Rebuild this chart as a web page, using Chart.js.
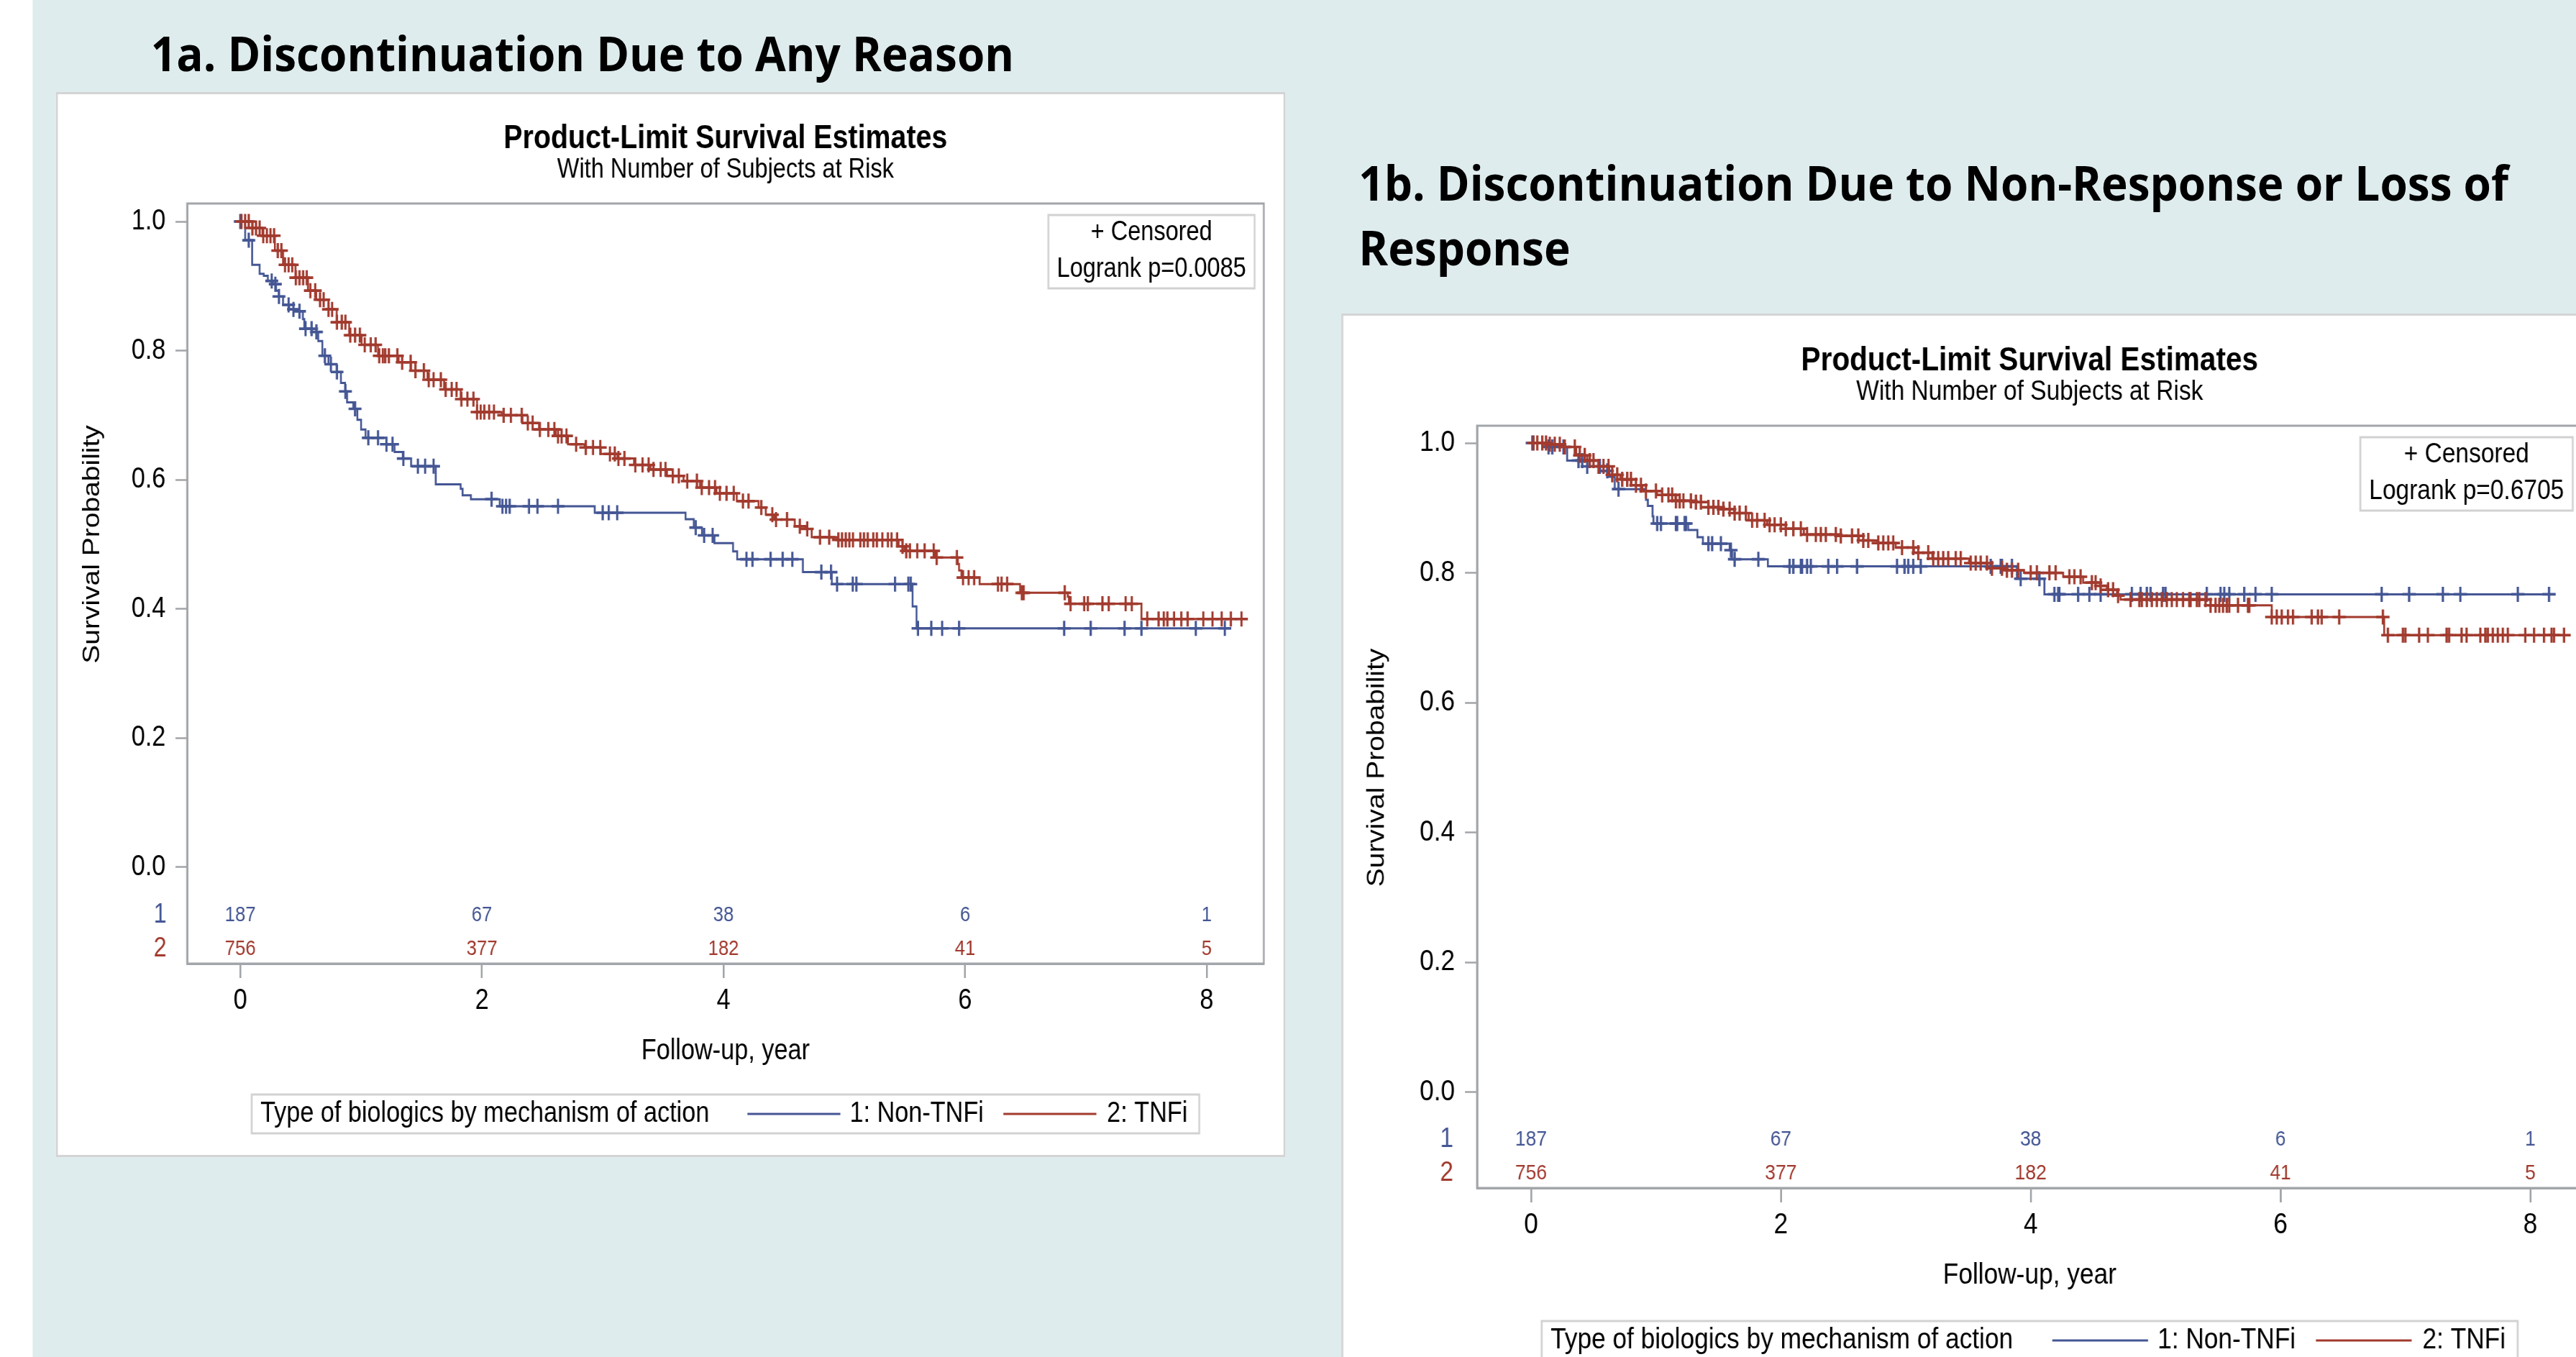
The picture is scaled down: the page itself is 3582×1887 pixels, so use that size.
<!DOCTYPE html>
<html lang="en">
<head>
<meta charset="UTF-8">
<title>Product-Limit Survival Estimates</title>
<script src="https://cdn.jsdelivr.net/npm/chart.js"></script>
<style>
  html, body { margin: 0; padding: 0; background: #fff; overflow: hidden; width: 3582px; height: 1887px; }
  /* the source picture is squeezed sideways, so the whole page is too */
  #page { position: absolute; left: 0; top: 0; width: 4185px; height: 1887px; transform: scaleX(0.856); transform-origin: 0 0; }
  #bg { position: absolute; left: 52.6px; top: 0; right: 0; bottom: 0; background: #dfeced; }
  .heading { position: absolute; font-family: "Open Sans", sans-serif; font-weight: 700; font-size: 66px; line-height: 90px; color: #000; white-space: nowrap; transform-origin: 0 0; }
  .panel { position: absolute; background: #fff; border: 3px solid #d4d4d4; transform-origin: 0 0; }
  .panel canvas { display: block; }
</style>
</head>
<body>
<div id="page">
  <div id="bg"></div>
  <div class="heading" id="h1a" style="left:245.3px; top:28.4px;">1a. Discontinuation Due to Any Reason</div>
  <div class="heading" id="h1b" style="left:2206.8px; top:208.4px;">1b. Discontinuation Due to Non-Response or Loss of<br>Response</div>

  <div class="panel" style="left:91.1px; top:128px;">
    <canvas id="chartAny" width="1991" height="1475"></canvas>
  </div>
  <div class="panel" style="left:2178.7px; top:436px; transform:scaleX(1.03);">
    <canvas id="chartNonResp" width="1986" height="1480"></canvas>
  </div>
</div>

<script>
// ---- data ----
const yearTicks = [0, 2, 4, 6, 8];
const survTicks = [0, 0.2, 0.4, 0.6, 0.8, 1.0];
const groupIds = ['1', '2'];
const groupLabels = ['1: Non-TNFi', '2: TNFi'];
const atRiskNonTnf = [187, 67, 38, 6, 1];
const atRiskTnf = [756, 377, 182, 41, 5];

// 1a. any reason: step times (years) and survival after each step
const anyNonTime = [0, 0.04, 0.098, 0.16, 0.194, 0.228, 0.269, 0.296, 0.32, 0.354, 0.405, 0.457, 0.518, 0.53, 0.593, 0.645, 0.679, 0.73, 0.798, 0.833, 0.867, 0.884, 0.935, 0.969, 1.0, 1.037, 1.208, 1.277, 1.345, 1.414, 1.618, 1.824, 1.84, 1.909, 2.148, 2.934, 3.686, 3.754, 3.822, 3.925, 4.079, 4.113, 4.657, 4.897, 5.565, 5.598, 8.2];
const anyNonSurv = [1, 0.971, 0.933, 0.919, 0.916, 0.908, 0.903, 0.893, 0.884, 0.871, 0.864, 0.861, 0.849, 0.834, 0.829, 0.815, 0.792, 0.779, 0.767, 0.75, 0.737, 0.72, 0.71, 0.693, 0.678, 0.665, 0.655, 0.643, 0.633, 0.621, 0.593, 0.586, 0.576, 0.57, 0.559, 0.549, 0.539, 0.526, 0.514, 0.502, 0.489, 0.477, 0.457, 0.4385, 0.404, 0.37, 0.37];
const anyNonCens = [0.0, 0.07, 0.26, 0.29, 0.32, 0.40, 0.44, 0.49, 0.54, 0.59, 0.63, 0.70, 0.75, 0.80, 0.87, 0.95, 1.06, 1.14, 1.21, 1.26, 1.35, 1.47, 1.53, 1.60, 2.08, 2.17, 2.20, 2.23, 2.39, 2.46, 2.63, 3.00, 3.05, 3.12, 3.77, 3.84, 3.91, 4.19, 4.24, 4.39, 4.49, 4.57, 4.81, 4.89, 4.94, 5.07, 5.10, 5.42, 5.53, 5.55, 5.61, 5.72, 5.81, 5.95, 6.82, 7.04, 7.32, 7.46, 7.91, 8.15];

const anyTnfTime = [0, 0.1, 0.183, 0.286, 0.354, 0.457, 0.56, 0.628, 0.73, 0.798, 0.901, 1.004, 1.14, 1.311, 1.414, 1.55, 1.687, 1.824, 1.96, 2.165, 2.336, 2.473, 2.61, 2.712, 2.849, 2.985, 3.122, 3.259, 3.396, 3.532, 3.669, 3.805, 3.942, 4.11, 4.29, 4.35, 4.42, 4.59, 4.68, 4.73, 4.94, 5.45, 5.50, 5.75, 5.94, 5.95, 5.97, 6.12, 6.455, 6.85, 6.86, 7.46, 8.34];
const anyTnfSurv = [1, 0.99, 0.978, 0.955, 0.933, 0.913, 0.893, 0.879, 0.864, 0.844, 0.824, 0.809, 0.792, 0.782, 0.769, 0.755, 0.74, 0.725, 0.705, 0.70, 0.688, 0.678, 0.668, 0.655, 0.65, 0.64, 0.633, 0.623, 0.616, 0.606, 0.598, 0.588, 0.579, 0.567, 0.557, 0.546, 0.5385, 0.528, 0.524, 0.511, 0.507, 0.497, 0.49, 0.4796, 0.4697, 0.4597, 0.4486, 0.4386, 0.425, 0.419, 0.408, 0.3845, 0.3845];
const anyTnfCens = [0.01, 0.04, 0.07, 0.10, 0.13, 0.16, 0.19, 0.22, 0.25, 0.28, 0.31, 0.34, 0.37, 0.40, 0.43, 0.46, 0.49, 0.52, 0.55, 0.58, 0.62, 0.66, 0.69, 0.73, 0.76, 0.80, 0.84, 0.87, 0.91, 0.95, 0.99, 1.03, 1.08, 1.12, 1.15, 1.18, 1.20, 1.23, 1.30, 1.34, 1.41, 1.45, 1.52, 1.56, 1.60, 1.66, 1.70, 1.75, 1.79, 1.83, 1.88, 1.93, 1.96, 1.99, 2.02, 2.06, 2.10, 2.18, 2.24, 2.33, 2.38, 2.42, 2.48, 2.55, 2.60, 2.63, 2.66, 2.70, 2.78, 2.86, 2.92, 2.98, 3.06, 3.10, 3.13, 3.18, 3.27, 3.33, 3.38, 3.42, 3.48, 3.52, 3.58, 3.63, 3.70, 3.78, 3.82, 3.88, 3.93, 3.97, 4.025, 4.085, 4.161, 4.207, 4.313, 4.404, 4.435, 4.526, 4.632, 4.693, 4.799, 4.875, 4.951, 4.981, 5.012, 5.042, 5.072, 5.133, 5.163, 5.194, 5.24, 5.27, 5.315, 5.361, 5.391, 5.437, 5.482, 5.513, 5.543, 5.604, 5.665, 5.74, 5.765, 5.932, 5.983, 6.029, 6.075, 6.272, 6.302, 6.348, 6.47, 6.485, 6.825, 6.873, 6.986, 7.016, 7.137, 7.189, 7.329, 7.38, 7.508, 7.602, 7.645, 7.675, 7.73, 7.79, 7.842, 7.972, 8.048, 8.124, 8.2, 8.288];

// 1b. non-response or loss of response
const nrNonTime = [0, 0.127, 0.289, 0.45, 0.553, 0.626, 0.67, 0.92, 0.935, 0.973, 0.98, 1.258, 1.332, 1.376, 1.59, 1.61, 1.896, 3.89, 4.11, 8.2];
const nrNonSurv = [1, 0.994, 0.973, 0.964, 0.957, 0.948, 0.929, 0.9125, 0.903, 0.887, 0.876, 0.866, 0.855, 0.845, 0.835, 0.821, 0.81, 0.791, 0.767, 0.767];
const nrNonCens = [0.01, 0.14, 0.17, 0.26, 0.38, 0.41, 0.45, 0.55, 0.61, 0.70, 1.01, 1.04, 1.16, 1.17, 1.23, 1.24, 1.42, 1.45, 1.52, 1.60, 1.63, 1.82, 2.07, 2.10, 2.16, 2.17, 2.21, 2.24, 2.38, 2.45, 2.61, 2.93, 2.99, 3.02, 3.06, 3.12, 3.68, 3.76, 3.77, 3.85, 3.92, 4.07, 4.19, 4.22, 4.23, 4.38, 4.47, 4.56, 4.81, 4.88, 4.93, 4.96, 5.06, 5.08, 5.41, 5.52, 5.55, 5.59, 5.71, 5.80, 5.93, 6.81, 7.03, 7.30, 7.44, 7.90, 8.15];

const nrTnfTime = [0, 0.127, 0.245, 0.362, 0.45, 0.538, 0.626, 0.715, 0.803, 0.891, 1.008, 1.156, 1.302, 1.42, 1.538, 1.626, 1.743, 1.89, 2.037, 2.184, 2.478, 2.625, 2.772, 2.919, 3.066, 3.213, 3.507, 3.654, 3.8, 3.947, 4.26, 4.42, 4.556, 4.61, 4.69, 4.72, 5.44, 5.93, 6.83, 8.32];
const nrTnfSurv = [1, 0.998, 0.994, 0.981, 0.973, 0.964, 0.951, 0.944, 0.935, 0.926, 0.92, 0.911, 0.909, 0.901, 0.898, 0.892, 0.881, 0.874, 0.868, 0.859, 0.857, 0.85, 0.846, 0.839, 0.831, 0.822, 0.815, 0.807, 0.804, 0.8, 0.794, 0.785, 0.78, 0.774, 0.765, 0.759, 0.75, 0.732, 0.704, 0.704];
const nrTnfCens = [0.02, 0.05, 0.09, 0.12, 0.15, 0.19, 0.23, 0.27, 0.35, 0.39, 0.43, 0.47, 0.5, 0.54, 0.58, 0.62, 0.65, 0.69, 0.73, 0.77, 0.8, 0.84, 0.88, 0.92, 1.0, 1.05, 1.1, 1.13, 1.16, 1.19, 1.22, 1.28, 1.32, 1.36, 1.42, 1.46, 1.5, 1.54, 1.59, 1.63, 1.67, 1.72, 1.77, 1.81, 1.87, 1.91, 1.95, 2.0, 2.04, 2.1, 2.16, 2.21, 2.28, 2.32, 2.36, 2.44, 2.48, 2.57, 2.62, 2.66, 2.7, 2.78, 2.82, 2.86, 2.9, 2.97, 3.06, 3.1, 3.18, 3.22, 3.26, 3.3, 3.34, 3.4, 3.44, 3.52, 3.56, 3.6, 3.65, 3.69, 3.77, 3.81, 3.85, 3.9, 4.0, 4.05, 4.15, 4.2, 4.31, 4.35, 4.4, 4.49, 4.52, 4.56, 4.62, 4.66, 4.7, 4.8, 4.87, 4.89, 4.93, 4.97, 5.01, 5.05, 5.09, 5.13, 5.17, 5.22, 5.27, 5.28, 5.33, 5.35, 5.4, 5.44, 5.48, 5.51, 5.54, 5.57, 5.59, 5.66, 5.74, 5.75, 5.93, 5.97, 6.01, 6.06, 6.1, 6.25, 6.3, 6.33, 6.47, 6.82, 6.86, 6.98, 7.0, 7.11, 7.18, 7.33, 7.35, 7.45, 7.49, 7.6, 7.64, 7.66, 7.7, 7.74, 7.78, 7.82, 7.96, 8.03, 8.11, 8.17, 8.19, 8.27];

// ---- styling ----
const FAM = '"Liberation Sans", Arial, Helvetica, sans-serif';
const BLUE = '#445694';
const RED = '#a23a2e';
const FRAME = '#a2a5a9';
const BOXLINE = '#d2d2d2';

// survival level of a step curve at time t
function survAt(times, surv, t) {
  let s = surv[0];
  for (let i = 0; i < times.length; i++) {
    if (times[i] <= t) s = surv[i]; else break;
  }
  return s;
}

function stepSet(label, times, surv, color, order) {
  return {
    type: 'line', label: label, order: order,
    data: times.map((t, i) => ({ x: t, y: surv[i] })),
    stepped: 'before', showLine: true, fill: false,
    borderColor: color, borderWidth: 3, pointRadius: 0
  };
}

function censorSet(label, cens, times, surv, color, order) {
  return {
    type: 'scatter', label: label + ' censored', order: order,
    data: cens.map(t => ({ x: t, y: survAt(times, surv, t) })),
    showLine: false, pointStyle: 'cross', pointRadius: 10.5,
    pointBorderWidth: 3.6, pointBorderColor: color, pointBackgroundColor: color
  };
}

const kmDecor = {
  id: 'kmDecor',
  afterDraw(chart, args, o) {
    const { ctx, chartArea: a } = chart;
    const xs = chart.scales.x, ys = chart.scales.y;
    const cx = (a.left + a.right) / 2;
    ctx.save();

    // frame round the plot
    ctx.strokeStyle = FRAME;
    ctx.lineWidth = 3;
    ctx.strokeRect(a.left, a.top, a.right - a.left, a.bottom - a.top);

    // titles
    ctx.fillStyle = '#000';
    ctx.textAlign = 'center';
    ctx.textBaseline = 'alphabetic';
    ctx.font = 'bold 46px ' + FAM;
    ctx.fillText('Product-Limit Survival Estimates', cx, a.top - 77);
    ctx.font = '38px ' + FAM;
    ctx.fillText('With Number of Subjects at Risk', cx, a.top - 36);

    // censored / logrank box
    const bw = 335, bh = 102;
    const bx = a.right - 15 - bw, by = a.top + 16;
    ctx.fillStyle = '#fff';
    ctx.fillRect(bx, by, bw, bh);
    ctx.strokeStyle = BOXLINE;
    ctx.strokeRect(bx, by, bw, bh);
    ctx.fillStyle = '#000';
    ctx.textBaseline = 'middle';
    ctx.font = '38px ' + FAM;
    ctx.fillText('+ Censored', bx + bw / 2, by + 25);
    ctx.fillText('Logrank p=' + o.pValue, bx + bw / 2, by + 76);

    // numbers at risk
    const rows = [atRiskNonTnf, atRiskTnf];
    const rowY = [a.bottom - 67, a.bottom - 20];
    const colors = [BLUE, RED];
    rows.forEach((row, r) => {
      ctx.fillStyle = colors[r];
      ctx.font = '30px ' + FAM;
      row.forEach((n, i) => ctx.fillText(String(n), xs.getPixelForValue(yearTicks[i]), rowY[r]));
      ctx.font = '38px ' + FAM;
      ctx.fillText(groupIds[r], a.left - o.rowLabelX, rowY[r]);
    });

    // axis titles
    ctx.fillStyle = '#000';
    ctx.save();
    ctx.translate(a.left - o.yTitleX, (ys.getPixelForValue(0) + ys.getPixelForValue(1)) / 2);
    ctx.rotate(-Math.PI / 2);
    ctx.font = '39px ' + FAM;
    ctx.fillText('Survival Probability', 0, 0);
    ctx.restore();
    ctx.font = '40px ' + FAM;
    ctx.fillText('Follow-up, year', cx, a.bottom + 122);

    // legend
    const legTitle = 'Type of biologics by mechanism of action';
    ctx.font = '40px ' + FAM;
    const wT = ctx.measureText(legTitle).width;
    const w1 = ctx.measureText(groupLabels[0]).width;
    const w2 = ctx.measureText(groupLabels[1]).width;
    const lineLen = 151;
    const total = 14 + wT + 62 + lineLen + 15 + w1 + 32 + lineLen + 17 + w2 + 19;
    const lx = cx - total / 2, ly = a.bottom + o.legendTop, lh = 54;
    ctx.fillStyle = '#fff';
    ctx.fillRect(lx, ly, total, lh);
    ctx.strokeStyle = BOXLINE;
    ctx.lineWidth = 3;
    ctx.strokeRect(lx, ly, total, lh);
    const my = ly + lh / 2;
    ctx.textAlign = 'left';
    ctx.fillStyle = '#000';
    let px = lx + 14;
    ctx.fillText(legTitle, px, my);
    px += wT + 62;
    ctx.strokeStyle = BLUE;
    ctx.beginPath(); ctx.moveTo(px, my); ctx.lineTo(px + lineLen, my); ctx.stroke();
    px += lineLen + 15;
    ctx.fillText(groupLabels[0], px, my);
    px += w1 + 32;
    ctx.strokeStyle = RED;
    ctx.beginPath(); ctx.moveTo(px, my); ctx.lineTo(px + lineLen, my); ctx.stroke();
    px += lineLen + 17;
    ctx.fillText(groupLabels[1], px, my);

    ctx.restore();
  }
};

function kmChart(id, d, L) {
  const tickFont = { family: FAM, size: 40 };
  return new Chart(document.getElementById(id), {
    type: 'scatter',
    data: {
      datasets: [
        stepSet(groupLabels[0], d.nonTime, d.nonSurv, BLUE, 3),
        censorSet(groupLabels[0], d.nonCens, d.nonTime, d.nonSurv, BLUE, 2),
        stepSet(groupLabels[1], d.tnfTime, d.tnfSurv, RED, 1),
        censorSet(groupLabels[1], d.tnfCens, d.tnfTime, d.tnfSurv, RED, 0)
      ]
    },
    plugins: [kmDecor],
    options: {
      responsive: false,
      animation: false,
      devicePixelRatio: 1,
      events: [],
      layout: { padding: { top: L.top, right: L.right, left: 0, bottom: 0 } },
      plugins: {
        legend: { display: false },
        tooltip: { enabled: false },
        kmDecor: { pValue: d.pValue, rowLabelX: L.rowLabelX, yTitleX: L.yTitleX, legendTop: L.legendTop }
      },
      scales: {
        x: {
          type: 'linear', min: L.xMin, max: L.xMax,
          afterFit: s => { s.height = L.xAxisHeight; },
          afterBuildTicks: s => { s.ticks = yearTicks.map(v => ({ value: v })); },
          ticks: { font: tickFont, color: '#000', padding: 8, autoSkip: false, maxRotation: 0, callback: v => String(v) },
          grid: { drawOnChartArea: false, drawTicks: true, tickLength: 20, tickWidth: 3, tickColor: FRAME },
          border: { display: true, color: FRAME, width: 3 }
        },
        y: {
          type: 'linear', min: L.yMin, max: L.yMax,
          afterFit: s => { s.width = L.yAxisWidth; },
          afterBuildTicks: s => { s.ticks = survTicks.map(v => ({ value: v })); },
          ticks: { font: tickFont, color: '#000', padding: 16, callback: v => v.toFixed(1) },
          grid: { drawOnChartArea: false, drawTicks: true, tickLength: 19, tickWidth: 2.5, tickColor: FRAME },
          border: { display: true, color: FRAME, width: 3 }
        }
      }
    }
  });
}

kmChart('chartAny',
  { nonTime: anyNonTime, nonSurv: anyNonSurv, nonCens: anyNonCens,
    tnfTime: anyTnfTime, tnfSurv: anyTnfSurv, tnfCens: anyTnfCens, pValue: '0.0085' },
  { top: 152, right: 32, yAxisWidth: 210, xAxisHeight: 266, xMin: -0.44, xMax: 8.473, yMin: -0.1493, yMax: 1.0279,
    rowLabelX: 44, yTitleX: 154, legendTop: 182 });

kmChart('chartNonResp',
  { nonTime: nrNonTime, nonSurv: nrNonSurv, nonCens: nrNonCens,
    tnfTime: nrTnfTime, tnfSurv: nrTnfSurv, tnfCens: nrTnfCens, pValue: '0.6705' },
  { top: 153, right: 32, yAxisWidth: 211, xAxisHeight: 267, xMin: -0.432, xMax: 8.416, yMin: -0.1473, yMax: 1.0266,
    rowLabelX: 48, yTitleX: 158, legendTop: 185 });

// fit the slide headings to the width they take in the picture
function fitHeading(id, target) {
  const el = document.getElementById(id);
  el.style.transform = 'scaleX(' + (target / el.offsetWidth) + ')';
}
fitHeading('h1a', 1402);
fitHeading('h1b', 1868);
</script>
</body>
</html>
